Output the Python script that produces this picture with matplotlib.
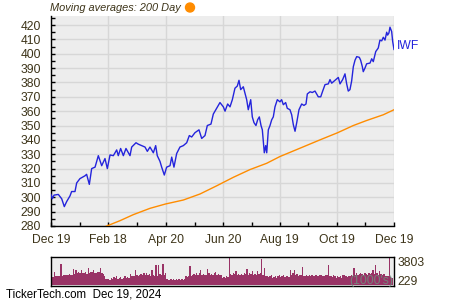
import numpy as np
import pandas as pd
import matplotlib
matplotlib.use("Agg")
import matplotlib.pyplot as plt

plt.rcParams['font.family'] = ['Liberation Sans', 'DejaVu Sans']

# price of IWF: days after 2023-12-19 and close
start = pd.Timestamp("2023-12-19")
price_days = [0, 1.4, 3.2, 7.8, 11.4, 14.2, 16.7, 20.3, 22, 25.6, 27.4, 30.9, 36.3, 38,
              40.9, 43.4, 47, 50.5, 54.1, 57.6, 60.1, 63, 66.5, 70.1, 71.8, 74.3, 77.2,
              80, 84.3, 86.1, 90.7, 93.2, 96.8, 100.3, 102.8, 105.6, 109.2, 111.7, 113.4,
              116.3, 118.1, 120.9, 123.4, 127, 128.8, 131.2, 134.1, 137.6, 141.2, 144.8,
              147.6, 150.1, 153.6, 157.9, 160.8, 164.3, 166.8, 170.7, 173.2, 176.8, 180.3,
              183.9, 185.7, 188.5, 191, 193.5, 196.3, 198.8, 200.6, 202.4, 205.2, 208.8,
              210.5, 213.1, 214.8, 216.6, 218.7, 220.5, 222.3, 224.1, 225.5, 226.5, 227.6,
              229.1, 230.2, 231.9, 233.7, 235.5, 237.2, 239, 241.5, 244.3, 246.1, 247.9,
              250.4, 252.1, 255, 256.8, 258.6, 260.4, 262.2, 264.6, 267.5, 269.9, 272.1,
              273.5, 276.4, 278.8, 281.7, 283.5, 285.2, 287.8, 289.9, 292.4, 295.9, 297.7,
              299.5, 303, 306.6, 308.4, 311.2, 313.7, 315.5, 317.2, 319, 320.8, 322.6,
              324.4, 326.2, 329, 330.4, 332.2, 333.2, 335, 336.8, 340.4, 342.2, 343.9,
              346.5, 349.2, 351, 352.9, 354.6, 356.4, 358.2, 359.2, 360.6, 361.7, 363.5,
              364.6, 366]
price = [302, 299, 301.5, 302, 299, 293.5, 297, 301, 304, 304, 310, 313, 315, 316,
         309, 320, 321, 329, 322, 327, 320, 329.5, 329, 333, 329, 334, 329,
         334, 329, 335, 338, 337, 336, 335, 332, 335, 331, 336, 329,
         325, 321, 315.5, 321, 322, 328, 321, 330.5, 335, 336, 338,
         343, 342, 345, 347, 341, 343, 350, 351, 358, 362, 366,
         363, 360, 365, 363, 368, 376, 377.5, 381.5, 375, 377, 368,
         361, 368, 356, 352, 350, 354, 356, 350, 347, 339, 331,
         336, 331, 347, 350, 354, 356, 363, 368, 366.5, 368, 364.5,
         366, 362, 361, 357.5, 350.5, 346, 352, 361, 365, 364, 365,
         372, 373.5, 373, 374, 372, 370, 370, 374, 378.5, 379, 382,
         379.5, 381.5, 383.5, 379, 382, 386, 379, 374, 375, 381, 391,
         395.5, 398, 397.5, 395.5, 391, 387.5, 390, 393, 393.5, 396.5, 394.5,
         401.5, 404, 409.5, 409, 411.5, 409.5, 415, 413, 414.5, 418.5, 415.5,
         408.5, 403]

# 200 day moving average
ma_days = [57.6, 73.6, 87.8, 105.6, 122, 141.2, 159, 176.8, 194.5, 212.3, 230.2,
           244.3, 265.7, 287, 305.9, 322.6, 336.8, 354.6, 366]
ma = [279.5, 283.7, 287.9, 292.3, 295.3, 298.1, 302.3, 308, 313.9, 319.3, 323.7,
      328.4, 334.2, 340, 345, 350, 353.5, 357.5, 361]

# daily volume in thousands, one per trading day
volume = [1200, 1150, 1800, 1250, 1300, 1200, 1250, 2900, 1300, 1400,
          1450, 1350, 1400, 1500, 1400, 1350, 2250, 1500, 2000, 1600,
          1800, 1700, 2100, 1650, 1700, 1800, 1550, 2300, 1700, 1750,
          1800, 2000, 1650, 1700, 1800, 1750, 2350, 1600, 1500, 1300,
          850, 800, 900, 750, 1000, 900, 1100, 950, 1200, 850,
          1000, 1150, 900, 1050, 1200, 950, 1100, 1000, 1550, 1200,
          1300, 1250, 2000, 1400, 1300, 1450, 1500, 1350, 1600, 1400,
          1700, 1350, 1500, 1300, 2050, 1400, 1300, 2650, 1200, 2650,
          1500, 1350, 2900, 1450, 1600, 850, 700, 750, 800, 700,
          850, 750, 900, 700, 800, 750, 850, 700, 900, 1200,
          1150, 1250, 2550, 1300, 1400, 1500, 1350, 1700, 1400, 1600,
          2000, 1450, 1500, 1350, 1400, 2200, 1600, 1450, 1500, 1400,
          1600, 1800, 1400, 1500, 1350, 1450, 1050, 1100, 1000, 1200,
          1150, 3600, 1500, 1450, 1600, 1550, 1900, 1400, 1500, 1450,
          1550, 1400, 1600, 1500, 2250, 1400, 1600, 1500, 1900, 1450,
          1500, 1400, 1900, 1500, 1600, 3500, 1450, 2300, 1300, 1200,
          1100, 1250, 1400, 1050, 1150, 1300, 1000, 1200, 1350, 1100,
          1250, 1450, 1100, 1300, 1200, 1150, 2050, 1400, 1600, 2050,
          1350, 1500, 1300, 1450, 1400, 2500, 1300, 1250, 1400, 1200,
          1350, 1250, 1450, 1300, 1200, 1400, 1300, 1250, 1450, 1350,
          1200, 1300, 1400, 1350, 2700, 1300, 1250, 1100, 1400, 1200,
          1050, 1300, 1150, 1250, 1000, 1350, 1450, 1200, 1100, 1300,
          1250, 1400, 1300, 2300, 1450, 1600, 1400, 1550, 1650, 1500,
          1400, 1600, 1500, 1450, 1700, 1550, 1600, 2100, 1500, 2700,
          1600, 1450, 1900, 1500, 1400, 1500, 1250, 1200, 1300, 3803,
          1100, 1000, 950]
vol_max, vol_min = 3803, 229

major_ticks = ["2023-12-19", "2024-02-18", "2024-04-20", "2024-06-20",
               "2024-08-19", "2024-10-19", "2024-12-19"]
major_labels = ["Dec 19", "Feb 18", "Apr 20", "Jun 20", "Aug 19", "Oct 19", "Dec 19"]

text_col = "#3d3419"
bg = "#ededed"
grid_col = "#d7d7d7"

fig = plt.figure(figsize=(4.5, 3), dpi=100)

# main price panel
ax = fig.add_axes([51 / 450, 1 - 226 / 300, 343 / 450, 210 / 300])
ax.set_facecolor(bg)
px = start + pd.to_timedelta(price_days, unit="D")
mx = start + pd.to_timedelta(ma_days, unit="D")
ax.plot(mx, ma, color="#ff8c00", lw=1.0, zorder=3)
ax.plot(px, price, color="#2424dc", lw=1.0, zorder=4)

ax.set_xlim(pd.Timestamp(major_ticks[0]), pd.Timestamp(major_ticks[-1]))
ax.set_ylim(280, 426.3)
ticks = pd.to_datetime(major_ticks)
ax.set_xticks(ticks)
ax.set_xticklabels(major_labels)
mids = ticks[:-1] + (ticks[1:] - ticks[:-1]) / 2
ax.set_xticks(mids, minor=True)
ax.set_yticks(np.arange(280, 421, 10))
ax.set_yticks(np.arange(285, 426, 10), minor=True)
ax.grid(True, which="major", color=grid_col, lw=1.0)
ax.set_axisbelow(True)
for s in ["top", "right"]:
    ax.spines[s].set_visible(False)
for s in ["left", "bottom"]:
    ax.spines[s].set_color("black")
    ax.spines[s].set_linewidth(1.0)
ax.tick_params(axis="both", which="both", direction="in", length=3, width=1,
               colors="black", labelcolor=text_col, labelsize=8.7)
ax.tick_params(axis="y", pad=7)
ax.tick_params(axis="x", pad=6)

ax.text(1.008, 405.4, "IWF", transform=ax.get_yaxis_transform(), color="#2424dc",
        fontsize=8.7, va="center", ha="left")

fig.text(50 / 450, 1 - 8 / 300, "Moving averages: 200 Day", style="italic",
         color=text_col, fontsize=7.9, va="center", ha="left")
fig.patches.append(matplotlib.patches.Ellipse((190 / 450, 1 - 7.5 / 300), 9 / 450, 9 / 300,
                                              transform=fig.transFigure, color="#ff8c00"))

# volume panel
vax = fig.add_axes([51 / 450, 1 - 285.5 / 300, 343 / 450, 29 / 300])
vax.set_facecolor(bg)
idx = np.arange(len(volume))
vax.fill_between(idx, volume, 0, step="mid", color="#993366", linewidth=0,
                 antialiased=False)
vax.set_xlim(-0.5, len(volume) - 0.5)
vax.set_ylim(0, vol_max * 1.01)
vax.set_xticks([])
vax.set_yticks([])
for s in vax.spines.values():
    s.set_color("black")
    s.set_linewidth(1.0)
vax.text(1.011, 0.79, str(vol_max), transform=vax.transAxes, color=text_col,
         fontsize=8.7, va="center", ha="left")
vax.text(1.011, 0.13, str(vol_min), transform=vax.transAxes, color=text_col,
         fontsize=8.7, va="center", ha="left")
vax.text(0.997, 0.16, "(1000's)", transform=vax.transAxes, color="#6f8f7f",
         alpha=0.85, fontsize=8.7, va="center", ha="right")

fig.text(6 / 450, 1 - 294.5 / 300, "TickerTech.com  Dec 19, 2024", color="black",
         fontsize=8.3, va="center", ha="left")

fig.savefig("out.png", dpi=100)
